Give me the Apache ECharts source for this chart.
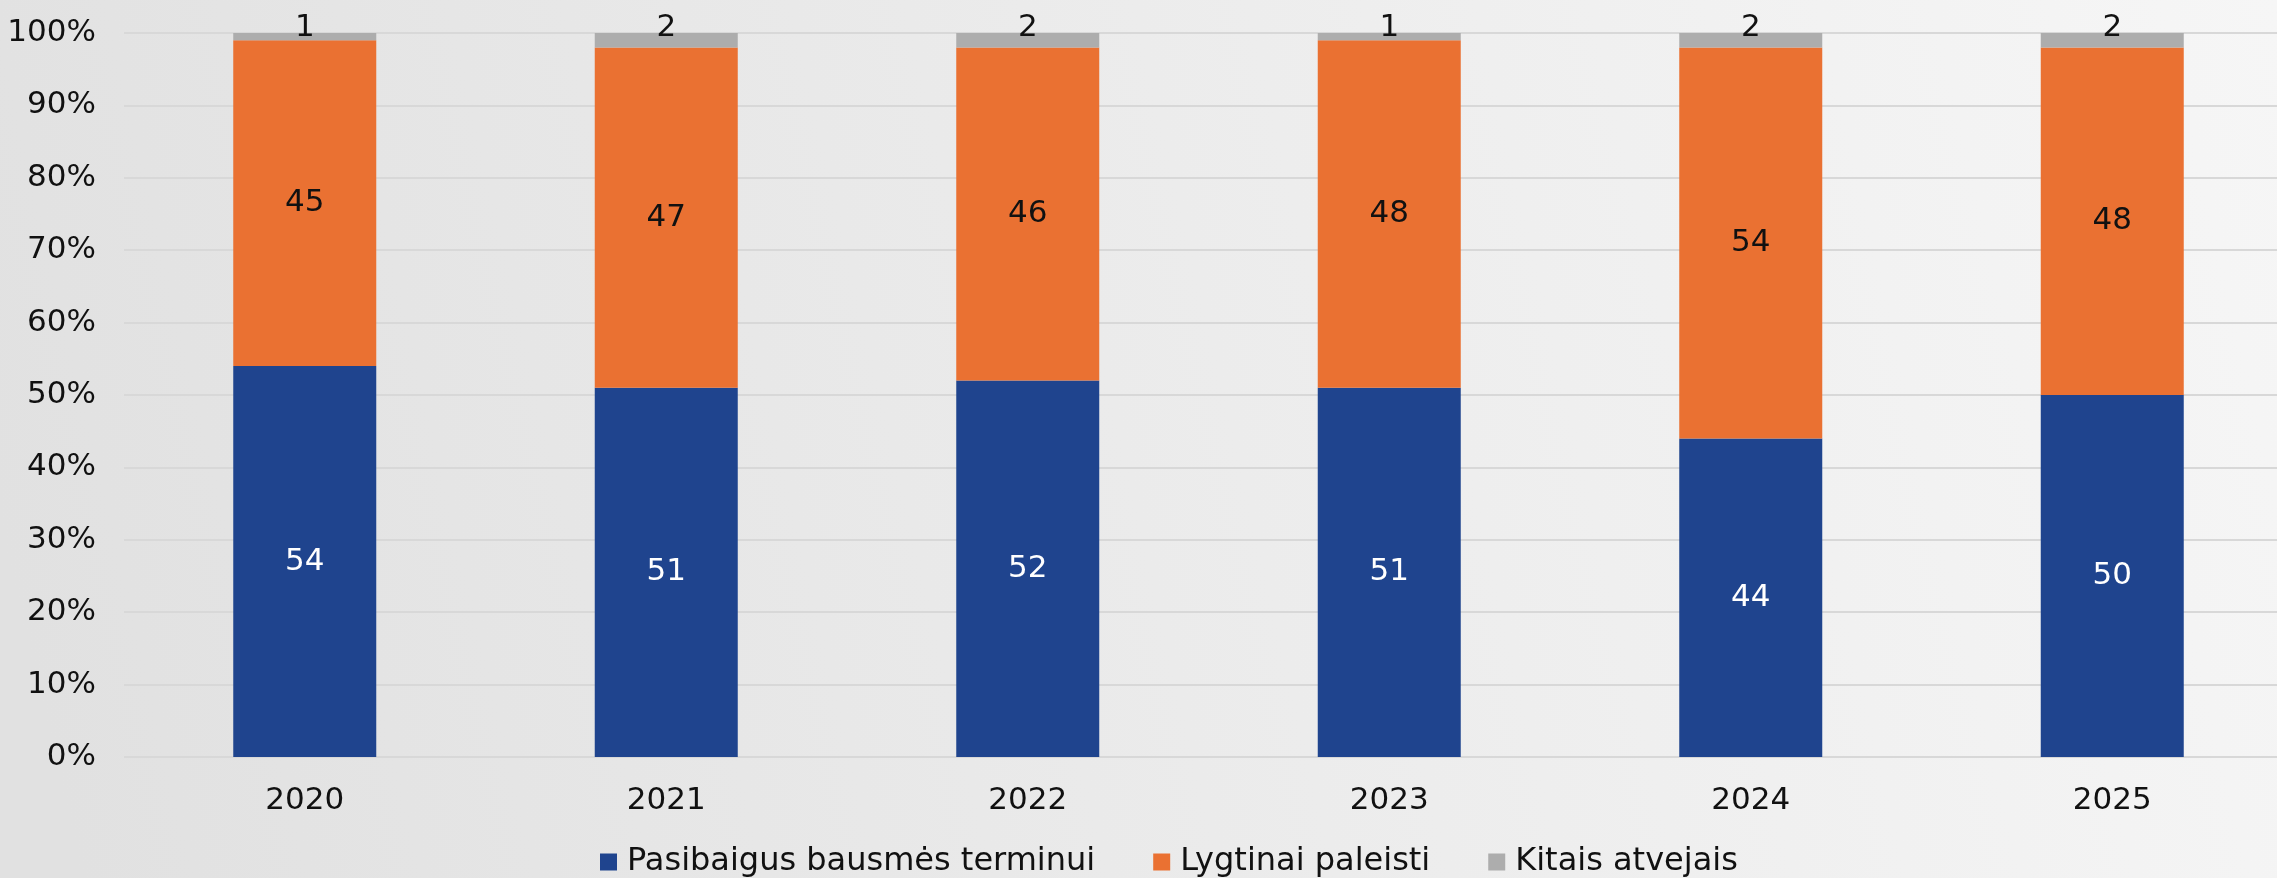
<!DOCTYPE html>
<html>
<head>
<meta charset="utf-8">
<script src="https://cdn.jsdelivr.net/npm/echarts@6/dist/echarts.min.js"></script>
<style>
html, body { margin: 0; padding: 0; }
#chart { width: 2277px; height: 878px; }
</style>
</head>
<body>
<div id="chart"></div>
<script>
var years = ['2020', '2021', '2022', '2023', '2024', '2025'];
var pasibaigus = [54, 51, 52, 51, 44, 50];
var lygtinai = [45, 47, 46, 48, 54, 48];
var kitais = [1, 2, 2, 1, 2, 2];
var yTicks = [0, 10, 20, 30, 40, 50, 60, 70, 80, 90, 100];

var font = 'DejaVu Sans';
var chart = echarts.init(document.getElementById('chart'));

function barSeries(name, data, color, labelColor, pos) {
    return {
        name: name,
        type: 'bar',
        stack: 'total',
        data: data,
        barWidth: 143,
        itemStyle: { color: color },
        label: {
            show: true,
            position: pos,
            distance: pos === 'top' ? -10 : 5,
            color: labelColor,
            fontFamily: font,
            fontSize: 31
        }
    };
}

chart.setOption({
    backgroundColor: {
        type: 'linear', x: 0, y: 0.6, x2: 1, y2: 0,
        colorStops: [{ offset: 0, color: '#e1e1e1' }, { offset: 1, color: '#f6f6f6' }]
    },
    animation: false,
    grid: {
        left: 124, right: -16, top: 33, bottom: 121,
        containLabel: false,
        outerBoundsMode: 'none'
    },
    legend: {
        bottom: -5,
        left: 595,
        itemWidth: 17,
        itemHeight: 17,
        itemGap: 58,
        icon: 'rect',
        textStyle: { fontFamily: font, fontSize: 32, color: '#111', padding: [0, 0, 0, 5] },
        data: ['Pasibaigus bausmės terminui', 'Lygtinai paleisti', 'Kitais atvejais']
    },
    xAxis: {
        type: 'category',
        data: years,
        axisLine: { show: false },
        axisTick: { show: false },
        axisLabel: { margin: 28, fontFamily: font, fontSize: 31, color: '#111' }
    },
    yAxis: {
        type: 'value',
        min: yTicks[0],
        max: yTicks[yTicks.length - 1],
        interval: 10,
        axisLabel: {
            margin: 28,
            fontFamily: font,
            fontSize: 31,
            color: '#111',
            formatter: '{value}%'
        },
        splitLine: { lineStyle: { color: '#d8d8d8', width: 2 } }
    },
    series: [
        barSeries('Pasibaigus bausmės terminui', pasibaigus, '#1f448e', '#ffffff', 'inside'),
        barSeries('Lygtinai paleisti', lygtinai, '#ea7132', '#111111', 'inside'),
        barSeries('Kitais atvejais', kitais, '#adadad', '#111111', 'top')
    ]
});
</script>
</body>
</html>
